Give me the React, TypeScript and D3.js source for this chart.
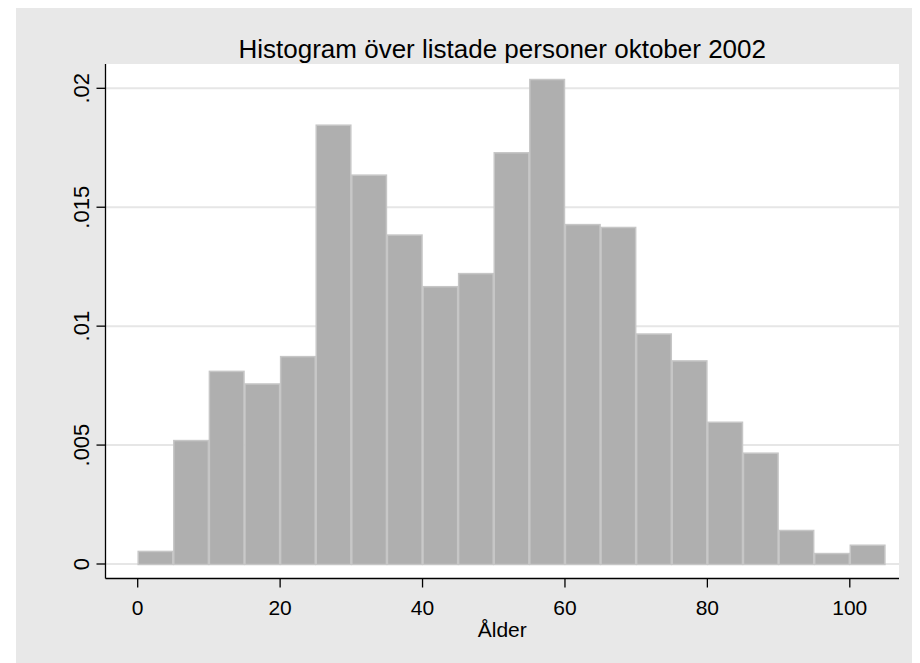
import React, { useEffect, useRef } from "react";
import * as d3 from "d3";

const binStarts = [0, 5, 10, 15, 20, 25, 30, 35, 40, 45, 50, 55, 60, 65, 70, 75, 80, 85, 90, 95, 100];
const densities = [
  0.00055, 0.00521, 0.00812, 0.00759, 0.00874, 0.01847, 0.01637, 0.01385, 0.01168, 0.01223,
  0.01731, 0.02039, 0.01429, 0.01417, 0.00969, 0.00856, 0.00598, 0.00468, 0.00143, 0.00046, 0.00081,
];
const binWidth = 5;
const xTicks = [0, 20, 40, 60, 80, 100];
const yTicks = [0, 0.005, 0.01, 0.015, 0.02];
const yTickLabels = ["0", ".005", ".01", ".015", ".02"];
const title = "Histogram över listade personer oktober 2002";
const xLabel = "Ålder";

export default function App() {
  const ref = useRef<SVGSVGElement>(null);

  useEffect(() => {
    const svg = d3.select(ref.current);
    svg.selectAll("*").remove();
    const g = svg.append("g").attr("transform", "translate(-8,-8)");
    const font = "Arial, 'Liberation Sans', sans-serif";

    const plotL = 105.5, plotR = 899, plotT = 64, plotB = 578.5;
    const x = d3.scaleLinear().domain([0, 100]).range([137.7, 849.8]);
    const y = d3.scaleLinear().domain([0, 0.02]).range([564, 88.3]);

    g.append("rect").attr("x", 16).attr("y", 8).attr("width", 920).attr("height", 663).attr("fill", "#e8e8e8");
    g.append("rect").attr("x", plotL).attr("y", plotT).attr("width", plotR - plotL).attr("height", plotB - plotT).attr("fill", "#ffffff");

    g.selectAll("line.grid").data(yTicks).enter().append("line")
      .attr("x1", plotL).attr("x2", plotR)
      .attr("y1", (d) => y(d)).attr("y2", (d) => y(d))
      .attr("stroke", "#e6e6e6").attr("stroke-width", 2);

    g.selectAll("rect.bar").data(densities).enter().append("rect")
      .attr("x", (_, i) => x(binStarts[i]) + 0.5)
      .attr("width", (_, i) => x(binStarts[i] + binWidth) - x(binStarts[i]) - 1)
      .attr("y", (d) => y(d) + 0.5)
      .attr("height", (d) => y(0) - y(d))
      .attr("fill", "#afafaf").attr("stroke", "#c6c6c6").attr("stroke-width", 1.5);

    g.append("line").attr("x1", plotL).attr("x2", plotL).attr("y1", plotT).attr("y2", plotB)
      .attr("stroke", "#000").attr("stroke-width", 1.3);
    g.append("line").attr("x1", plotL).attr("x2", plotR).attr("y1", plotB).attr("y2", plotB)
      .attr("stroke", "#000").attr("stroke-width", 1.3);

    g.selectAll("line.yt").data(yTicks).enter().append("line")
      .attr("x1", plotL - 9).attr("x2", plotL).attr("y1", (d) => y(d)).attr("y2", (d) => y(d))
      .attr("stroke", "#000").attr("stroke-width", 1.3);
    g.selectAll("line.xt").data(xTicks).enter().append("line")
      .attr("x1", (d) => x(d)).attr("x2", (d) => x(d)).attr("y1", plotB).attr("y2", plotB + 9)
      .attr("stroke", "#000").attr("stroke-width", 1.3);

    g.selectAll("text.xt").data(xTicks).enter().append("text")
      .attr("x", (d) => x(d)).attr("y", 615)
      .attr("text-anchor", "middle").attr("font-family", font).attr("font-size", 21)
      .text((d) => String(d));

    g.selectAll("text.yt").data(yTicks).enter().append("text")
      .attr("transform", (d) => `translate(89,${y(d)}) rotate(-90)`)
      .attr("text-anchor", "middle").attr("font-family", font).attr("font-size", 22)
      .text((_, i) => yTickLabels[i]);

    g.append("text").attr("x", (plotL + plotR) / 2).attr("y", 637)
      .attr("text-anchor", "middle").attr("font-family", font).attr("font-size", 21)
      .text(xLabel);

    g.append("text").attr("x", (plotL + plotR) / 2).attr("y", 58)
      .attr("text-anchor", "middle").attr("font-family", font).attr("font-size", 26)
      .text(title);
  }, []);

  return <svg ref={ref} width={912} height={655} style={{ display: "block" }} />;
}
